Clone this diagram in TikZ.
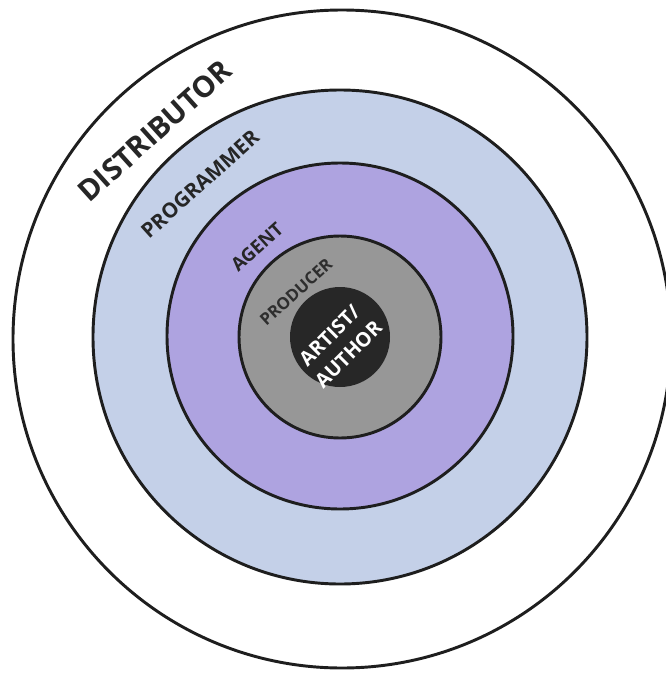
\documentclass[tikz,border=0pt]{standalone}
\usepackage{fontspec}
\setmainfont{Open Sans}
\usepackage{tikz}
\usepackage{xcolor}

\definecolor{ringline}{HTML}{1E1E1E}
\definecolor{progblue}{HTML}{C4D0E8}
\definecolor{agentviolet}{HTML}{AEA3E0}
\definecolor{prodgray}{HTML}{979797}
\definecolor{artistdark}{HTML}{272727}
\definecolor{labeldark}{HTML}{262626}
\definecolor{labelgray}{HTML}{2E2E2E}

\tikzset{
  ring/.style={draw=ringline, line width=2.2pt},
  ringlabel/.style={text=labeldark, inner sep=0pt, rotate=42}
}

\begin{document}
\begin{tikzpicture}[x=0.75pt,y=-0.75pt]
        \useasboundingbox (0,0) rectangle (666,675);
        \clip (0,0) rectangle (666,675);
        % Rings, outside in
        \filldraw[ring, fill=white] (342,339) circle (329); % Distributor
        \filldraw[ring, fill=progblue] (340,337) circle (247); % Programmer
        \filldraw[ring, fill=agentviolet] (340,336) circle (173); % Agent
        \filldraw[ring, fill=prodgray] (340,337) circle (101); % Producer
        \fill[artistdark] (340,337) circle (50); % Artist / author
        % Labels
        \node[ringlabel, font=\bfseries\fontsize{22}{26}\selectfont] (distributor) at (155,131) {DISTRIBUTOR};
        \node[ringlabel, font=\bfseries\fontsize{15.5}{18}\selectfont] (programmer) at (200,184) {PROGRAMMER};
        \node[ringlabel, font=\bfseries\fontsize{14}{17}\selectfont] (agent) at (257,247) {AGENT};
        \node[ringlabel, text=labelgray, font=\bfseries\fontsize{12.5}{15}\selectfont] (producer) at (296,292) {PRODUCER};
        \node[inner sep=0pt, text=white, rotate=45, align=center, font=\bfseries\fontsize{15}{20}\selectfont] (artist) at (339,345) {ARTIST/\\AUTHOR};
    \end{tikzpicture}
\end{document}
